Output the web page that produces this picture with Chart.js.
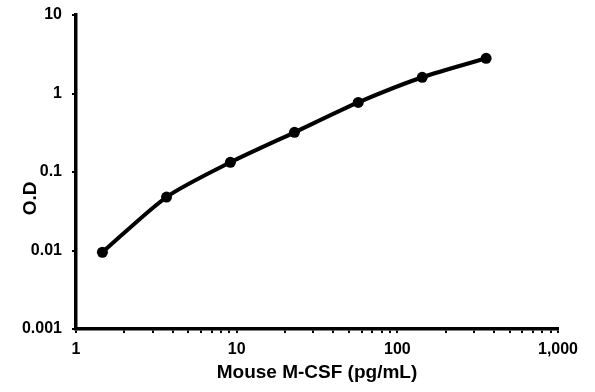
<!DOCTYPE html>
<html>
<head>
<meta charset="utf-8">
<script src="https://cdn.jsdelivr.net/npm/chart.js@4/dist/chart.umd.min.js"></script>
<style>
  html, body { margin: 0; padding: 0; background: #fff; }
</style>
</head>
<body>
<canvas id="chart" width="595" height="392"></canvas>
<script>
// Standard curve, Mouse M-CSF
const concentrations = [1.46, 3.66, 9.14, 22.9, 57.1, 142.9, 357];
const odValues = [0.0095, 0.048, 0.133, 0.32, 0.77, 1.61, 2.81];

const xMajorTicks = [1, 10, 100, 1000];
const xTickLabels = ['1', '10', '100', '1,000'];
const xMinorTicks = [2, 3, 4, 5, 6, 7, 8, 9, 20, 30, 40, 50, 60, 70, 80, 90, 200, 300, 400, 500, 600, 700, 800, 900];
const yTicks = [0.001, 0.01, 0.1, 1, 10];
const yTickLabels = ['0.001', '0.01', '0.1', '1', '10'];

const tickFont = { family: 'Liberation Sans', size: 16, weight: 'bold' };
const titleFont = { family: 'Liberation Sans', size: 19, weight: 'bold' };

let points = concentrations.map((x, i) => ({ x: x, y: odValues[i] }));

let el = document.querySelector('#chart');
new Chart(el, {
    type: 'scatter',
    data: {
        datasets: [
            {
                data: points,
                showLine: true,
                borderColor: '#000',
                backgroundColor: '#000',
                borderWidth: 4,
                tension: 0.25,
                pointRadius: 5.5,
                pointBackgroundColor: '#000',
                pointBorderWidth: 0
            }
        ]
    },
    options: {
        responsive: false,
        animation: false,
        devicePixelRatio: 1,
        layout: { padding: { left: 0, right: 37, top: 15, bottom: 0 } },
        plugins: {
            legend: { display: false },
            tooltip: { enabled: false }
        },
        scales: {
            x: {
                type: 'logarithmic',
                min: 1,
                max: 1000,
                afterBuildTicks: (scale) => {
                    scale.ticks = xMajorTicks.concat(xMinorTicks)
                        .sort((a, b) => a - b)
                        .map(v => ({ value: v }));
                },
                // fixed box so the plot area lands where the reference has it
                afterFit: (scale) => {
                    scale.height = 63;
                    scale.paddingLeft = 0;
                    scale.paddingRight = 0;
                },
                ticks: {
                    autoSkip: false,
                    maxRotation: 0,
                    color: '#000',
                    font: tickFont,
                    padding: 7,
                    callback: (value) => {
                        let i = xMajorTicks.indexOf(value);
                        return i < 0 ? '' : xTickLabels[i];
                    }
                },
                grid: {
                    drawOnChartArea: false,
                    drawTicks: true,
                    tickLength: 4,
                    color: '#000',
                    lineWidth: 2
                },
                border: { display: true, color: '#000', width: 3.5 },
                title: {
                    display: true,
                    text: 'Mouse M-CSF (pg/mL)',
                    color: '#000',
                    font: titleFont,
                    padding: { top: 0, bottom: 8 }
                }
            },
            y: {
                type: 'logarithmic',
                min: 0.001,
                max: 10,
                afterBuildTicks: (scale) => {
                    scale.ticks = yTicks.map(v => ({ value: v }));
                },
                afterFit: (scale) => {
                    scale.width = 76;
                    scale.paddingTop = 0;
                    scale.paddingBottom = 0;
                },
                ticks: {
                    autoSkip: false,
                    color: '#000',
                    font: tickFont,
                    padding: 10,
                    callback: (value) => {
                        let i = yTicks.indexOf(value);
                        return i < 0 ? '' : yTickLabels[i];
                    }
                },
                grid: {
                    drawOnChartArea: false,
                    drawTicks: true,
                    tickLength: 4,
                    color: '#000',
                    lineWidth: 2
                },
                border: { display: true, color: '#000', width: 3.5 },
                title: {
                    display: true,
                    // trailing spaces push the label down, as in the reference
                    text: 'O.D          ',
                    color: '#000',
                    font: titleFont,
                    padding: { top: 19, bottom: 0 }
                }
            }
        }
    }
});
</script>
</body>
</html>
